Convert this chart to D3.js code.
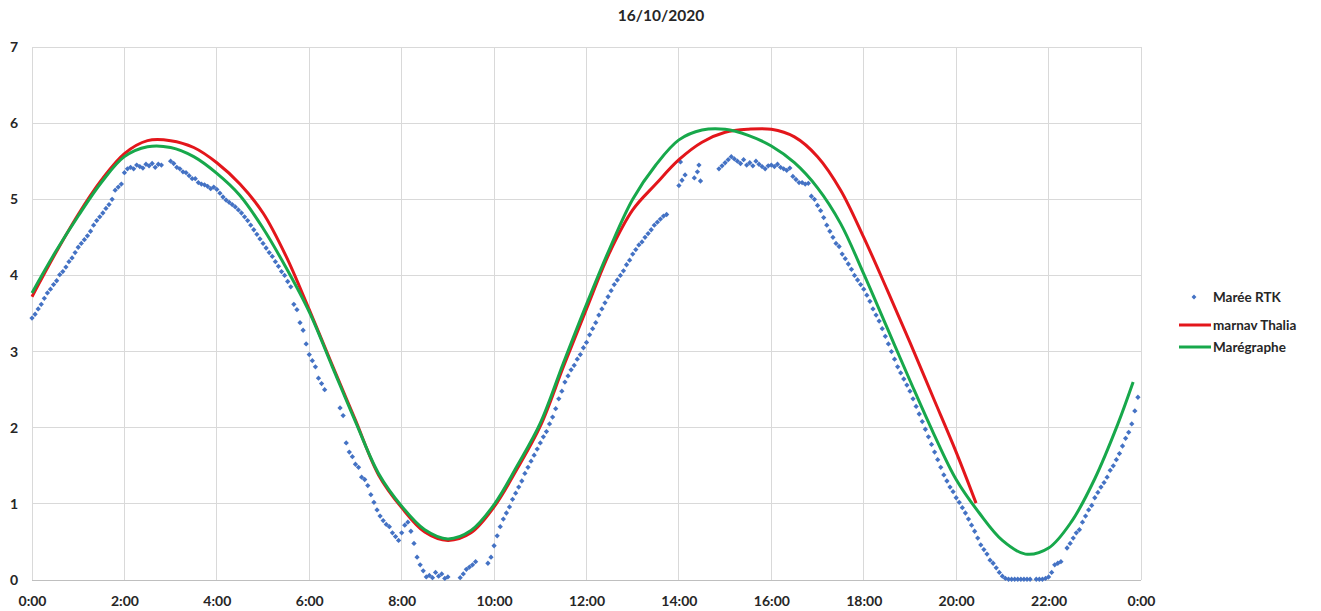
<!DOCTYPE html>
<html><head><meta charset="utf-8">
<script src="https://cdn.jsdelivr.net/npm/d3@7"></script>
<style>
html,body{margin:0;padding:0;background:#fff;}
svg text{font-family:Lato,"Open Sans",sans-serif;font-weight:700;fill:#262626;}
</style></head>
<body><svg id="c" width="1321" height="611"></svg>
<script>
const title = "16/10/2020";
const xTickHours = [0,2,4,6,8,10,12,14,16,18,20,22,24];
const xTickLabels = ["0:00","2:00","4:00","6:00","8:00","10:00","12:00","14:00","16:00","18:00","20:00","22:00","0:00"];
const yTicks = [0,1,2,3,4,5,6,7];
const seriesNames = ["Marée RTK","marnav Thalia","Marégraphe"];

// Marégraphe (hours, metres)
const marTimes = [0,0.5,1,1.5,2,2.5,3,3.5,4,4.5,5,5.5,6,6.5,7,7.5,8,8.5,9,9.5,10,10.5,11,11.5,12,12.5,13,13.5,14,14.5,15,15.5,16,16.5,17,17.5,18,18.5,19,19.5,20,20.5,21,21.5,22,22.5,23,23.5,23.83];
const marValues = [3.77,4.3,4.78,5.22,5.56,5.69,5.68,5.56,5.34,5.05,4.62,4.1,3.52,2.8,2.08,1.4,0.97,0.66,0.54,0.65,0.99,1.5,2.06,2.85,3.62,4.35,5.0,5.45,5.78,5.91,5.92,5.84,5.7,5.48,5.15,4.68,4.02,3.32,2.62,1.94,1.32,0.88,0.52,0.34,0.42,0.77,1.33,2.05,2.6];

// marnav Thalia
const thaTimes = [0,0.5,1,1.5,2,2.5,3,3.5,4,4.5,5,5.5,6,6.5,7,7.5,8,8.5,9,9.5,10,10.5,11,11.5,12,12.5,13,13.5,14,14.5,15,15.5,16,16.5,17,17.5,18,18.5,19,19.5,20,20.43];
const thaValues = [3.72,4.28,4.8,5.25,5.6,5.77,5.77,5.68,5.48,5.2,4.82,4.25,3.55,2.82,2.1,1.38,0.95,0.63,0.52,0.62,0.96,1.46,2.02,2.8,3.56,4.3,4.86,5.2,5.52,5.75,5.88,5.92,5.92,5.82,5.56,5.12,4.5,3.82,3.12,2.4,1.68,1.01];

// Marée RTK: one reading every 4 minutes from 0:00 (null = no reading)
const rtkStepMinutes = 4;
const rtkValues = [
// 0h
3.44,3.49,3.56,3.62,3.70,3.77,3.82,3.88,3.93,4.01,4.05,4.11,4.18,4.23,4.30,
// 1h
4.37,4.42,4.47,4.52,4.58,4.66,4.72,4.77,4.82,4.88,4.93,5.00,5.12,5.16,5.20,
// 2h
5.35,5.40,5.42,5.40,5.45,5.43,5.41,5.46,5.44,5.47,5.42,5.46,5.45,null,null,
// 3h
5.50,5.47,5.42,5.40,5.36,5.35,5.31,5.27,5.27,5.22,5.20,5.19,5.17,5.14,5.16,
// 4h
5.13,5.08,5.03,4.99,4.96,4.93,4.90,4.86,4.82,4.77,4.72,4.66,4.60,4.54,4.48,
// 5h
4.42,4.36,4.30,4.25,4.18,4.12,4.05,4.00,3.92,3.85,3.62,3.55,3.38,3.28,3.10,
// 6h
2.96,2.88,2.80,2.65,2.58,2.50,null,null,null,null,2.26,2.16,1.80,1.68,1.62,
// 7h
1.52,1.48,1.35,1.32,1.24,1.12,1.02,0.92,0.84,0.78,0.73,0.70,0.62,0.57,0.52,
// 8h
0.62,0.72,0.76,0.64,0.48,0.30,0.20,0.12,0.04,0.06,0.03,0.10,0.05,0.08,0.02,
// 9h
0.04,null,null,null,0.03,0.08,0.14,0.17,0.20,0.24,null,null,null,0.22,0.30,
// 10h
0.45,0.58,0.70,0.80,0.88,0.96,1.06,1.14,1.22,1.30,1.40,1.48,1.56,1.64,1.72,
// 11h
1.80,1.88,1.95,2.05,2.14,2.25,2.38,2.48,2.60,2.68,2.76,2.82,2.90,2.96,3.05,
// 12h
3.12,3.22,3.30,3.38,3.48,3.56,3.64,3.72,3.80,3.88,3.94,4.00,4.06,4.14,4.20,
// 13h
4.28,4.34,4.40,4.44,4.50,4.55,4.60,4.66,4.70,4.74,4.78,4.80,null,null,null,
// 14h
5.18,5.25,5.32,null,null,5.28,5.36,null,null,null,null,null,null,5.40,5.44,
// 15h
5.48,5.52,5.56,5.53,5.50,5.47,5.52,5.45,5.48,5.44,5.50,5.46,5.43,5.40,5.44,
// 16h
5.45,5.43,5.46,5.42,5.40,5.38,5.41,5.30,5.26,5.22,5.22,5.20,5.21,5.04,5.00,
// 17h
4.92,4.85,4.76,4.66,4.58,4.50,4.42,4.38,4.28,4.22,4.15,4.08,4.00,3.94,3.88,
// 18h
3.82,3.74,3.66,3.56,3.48,3.40,3.30,3.20,3.10,3.00,2.90,2.80,2.72,2.64,2.56,
// 19h
2.48,2.38,2.28,2.18,2.08,1.98,1.88,1.78,1.68,1.58,1.48,1.38,1.30,1.22,1.16,
// 20h
1.08,1.02,0.95,0.88,0.80,0.72,0.64,0.55,0.46,0.40,0.34,0.26,0.22,0.16,0.10,
// 21h
0.05,0.02,0.01,0.01,0.01,0.01,0.01,0.01,0.01,0.01,null,0.01,0.01,0.01,0.02,
// 22h
0.04,0.10,0.20,0.22,0.24,null,0.42,0.48,0.55,0.62,0.66,0.76,0.84,0.92,0.98,
// 23h
1.08,1.15,1.22,1.28,1.35,1.44,1.50,1.58,1.66,1.76,1.86,1.94,2.05,2.22,2.40
];
// a few extra scattered RTK readings (minutes, metres)
const rtkExtraMinutes = [842,866,868];
const rtkExtraValues = [5.49,5.45,5.24];

const colRTK = "#4472c4", colTha = "#e3161b", colMar = "#17a84b";

const svg = d3.select("#c");
const x = d3.scaleLinear().domain([0,24]).range([32,1141]);
const y = d3.scaleLinear().domain([0,7]).range([580,47]);

// grid
svg.append("g").selectAll("line.v").data(xTickHours).join("line")
  .attr("x1",d=>x(d)).attr("x2",d=>x(d)).attr("y1",y(7)).attr("y2",y(0))
  .attr("stroke","#d9d9d9").attr("stroke-width",1).attr("shape-rendering","crispEdges");
svg.append("g").selectAll("line.h").data(yTicks).join("line")
  .attr("x1",x(0)).attr("x2",x(24)).attr("y1",d=>y(d)).attr("y2",d=>y(d))
  .attr("stroke",d=>d===0?"#bfbfbf":"#d9d9d9").attr("stroke-width",1).attr("shape-rendering","crispEdges");

// axes labels
const xAxis = d3.axisBottom(x).tickValues(xTickHours).tickFormat((d,i)=>xTickLabels[i]).tickSize(0).tickPadding(0);
const gx = svg.append("g").attr("transform",`translate(0,${y(0)})`).call(xAxis);
gx.select(".domain").remove();
gx.selectAll("text").attr("dy",null).attr("y",26).style("font-size","14px").attr("fill","#262626");

const yAxis = d3.axisLeft(y).tickValues(yTicks).tickFormat(d3.format("d")).tickSize(0).tickPadding(0);
const gy = svg.append("g").attr("transform",`translate(18,0)`).call(yAxis);
gy.select(".domain").remove();
gy.selectAll("text").attr("x",0).style("font-size","14px").attr("fill","#262626");

// title
svg.append("text").attr("x",661).attr("y",21).attr("text-anchor","middle").style("font-size","15.5px").text(title);

// lines
const line = d3.line().x(d=>x(d[0])).y(d=>y(d[1])).curve(d3.curveCatmullRom.alpha(0.5));
const marData = marTimes.map((t,i)=>[t,marValues[i]]);
const thaData = thaTimes.map((t,i)=>[t,thaValues[i]]);

// RTK points
const rtkData = rtkValues.map((v,i)=>[i*rtkStepMinutes/60, v]).filter(d=>d[1]!==null)
  .concat(rtkExtraMinutes.map((m,i)=>[m/60, rtkExtraValues[i]]));
const diamond = d3.symbol().type(d3.symbolSquare).size(14);
svg.append("g").selectAll("path").data(rtkData).join("path")
  .attr("d",diamond).attr("fill",colRTK)
  .attr("transform",d=>`translate(${x(d[0])},${y(d[1])}) rotate(45)`);

svg.append("path").datum(thaData).attr("d",line).attr("fill","none").attr("stroke",colTha).attr("stroke-width",3).attr("stroke-linejoin","round");
svg.append("path").datum(marData).attr("d",line).attr("fill","none").attr("stroke",colMar).attr("stroke-width",3).attr("stroke-linejoin","round");

// legend
const lg = svg.append("g");
const legY = [297,325,347];
lg.append("path").attr("d",d3.symbol().type(d3.symbolSquare).size(12)).attr("fill",colRTK)
  .attr("transform",`translate(1194,${legY[0]}) rotate(45)`);
lg.append("line").attr("x1",1179).attr("x2",1211).attr("y1",legY[1]).attr("y2",legY[1]).attr("stroke",colTha).attr("stroke-width",3);
lg.append("line").attr("x1",1179).attr("x2",1211).attr("y1",legY[2]).attr("y2",legY[2]).attr("stroke",colMar).attr("stroke-width",3);
lg.selectAll("text").data(seriesNames).join("text")
  .attr("x",1213).attr("y",(d,i)=>legY[i]).attr("dy","0.35em").style("font-size","13.5px").text(d=>d);
</script></body></html>
